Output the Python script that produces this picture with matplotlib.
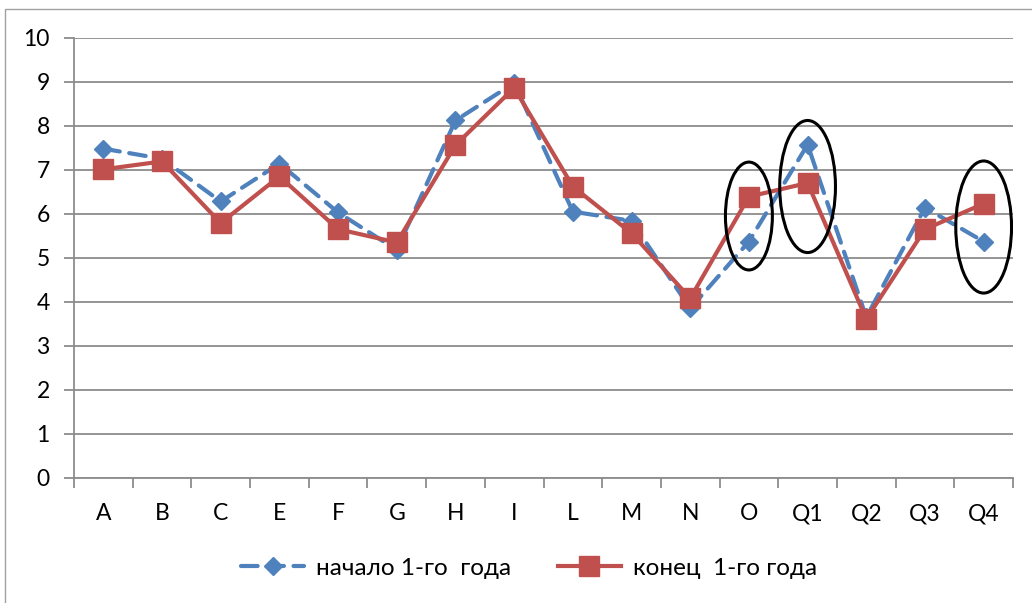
import matplotlib
matplotlib.use("Agg")
import matplotlib.pyplot as plt
from matplotlib.patches import Ellipse, Rectangle
import numpy as np

plt.rcParams['font.family'] = ['Lato', 'DejaVu Sans']

categories = ["A", "B", "C", "E", "F", "G", "H", "I", "L", "M", "N", "O", "Q1", "Q2", "Q3", "Q4"]
start_year = [7.48, 7.25, 6.28, 7.14, 6.03, 5.18, 8.12, 8.97, 6.05, 5.84, 3.85, 5.37, 7.57, 3.65, 6.14, 5.37]
end_year = [7.01, 7.19, 5.79, 6.85, 5.65, 5.35, 7.56, 8.86, 6.62, 5.56, 4.08, 6.39, 6.70, 3.61, 5.65, 6.23]
label_start = "начало 1-го  года"
label_end = "конец  1-го года"
y_ticks = list(range(0, 11))

# highlighted categories (ellipse annotations): category, centre value, width, height
highlights = [("O", 5.95, 0.80, 2.45), ("Q1", 6.62, 0.95, 3.0), ("Q4", 5.70, 0.95, 3.0)]

W, H = 1032, 603
fig = plt.figure(figsize=(W / 100, H / 100), dpi=100)
ax = fig.add_axes([74 / W, 1 - 478 / H, (1013 - 74) / W, (478 - 37.7) / H])

blue = "#4F81BD"
red = "#C0504D"
grid_c = "#8c8c8c"

x = np.arange(len(categories))
lb, = ax.plot(x, start_year, color=blue, lw=3, marker="D", ms=9.5,
              label=label_start, zorder=3, solid_capstyle="butt", dash_capstyle="round")
lb.set_dashes((4.0, 2.3))
lr, = ax.plot(x, end_year, color=red, lw=3, marker="s", ms=14,
              label=label_end, zorder=4)

for cat, cy, w, h in highlights:
    ax.add_patch(Ellipse((categories.index(cat), cy), w, h, fill=False,
                         edgecolor="black", lw=2.2, zorder=5))

ax.set_xlim(-0.5, len(categories) - 0.5)
ax.set_ylim(0, 10)
ax.set_yticks(y_ticks)
ax.set_yticklabels([str(v) for v in y_ticks], fontsize=16.5)
ax.set_xticks(x)
ax.set_xticklabels(categories, fontsize=16.5)
ax.set_xticks(np.arange(-0.5, len(categories), 1), minor=True)
ax.tick_params(axis="x", which="major", length=0, pad=18)
ax.tick_params(axis="x", which="minor", length=7, width=1.3, color=grid_c)
ax.tick_params(axis="y", which="major", length=7, width=1.3, color=grid_c, pad=10.5)

ax.grid(axis="y", color=grid_c, lw=1.3, zorder=0)
ax.set_axisbelow(True)
for s in ["top", "right"]:
    ax.spines[s].set_visible(False)
for s in ["left", "bottom"]:
    ax.spines[s].set_color(grid_c)
    ax.spines[s].set_linewidth(1.3)

fig.legend(handles=[lb, lr], loc="center", bbox_to_anchor=(529 / W, 1 - 568 / H),
           ncol=2, frameon=False, fontsize=17.5, handlelength=2.6,
           handletextpad=0.5, columnspacing=1.9)

fig.patches.append(Rectangle((5 / W, -0.05), 1.1, 1 - 9 / H + 0.05, transform=fig.transFigure,
                             fill=False, edgecolor="#a0a0a0", lw=1.0))

fig.savefig("out.png", dpi=100)
